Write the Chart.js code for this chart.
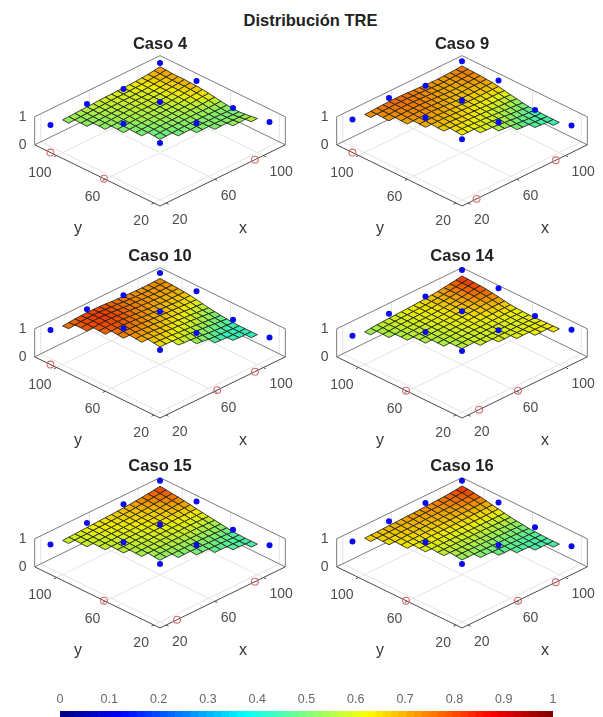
<!DOCTYPE html>
<html>
<head>
<meta charset="utf-8">
<title>Distribución TRE</title>
<script src="https://cdn.jsdelivr.net/npm/chart.js@4"></script>
<style>
  html, body { margin: 0; background: #fff; }
  #page { position: relative; width: 603px; height: 717px; overflow: hidden; }
  #page canvas { position: absolute; filter: blur(0.45px); }
  #mainTitle { position: absolute; left: 210px; width: 201px; top: 10px; text-align: center;
    font: bold 16.5px "Liberation Sans", Arial, sans-serif; line-height: 20px; color: #222; }
</style>
</head>
<body>
<div id="page">
  <div id="mainTitle">Distribución TRE</div>
</div>
<script>
// ejes
const xTickValues = [20, 60, 100];
const yTickValues = [20, 60, 100];
const zTickValues = [0, 1];
const colorbarTicks = [0, 0.1, 0.2, 0.3, 0.4, 0.5, 0.6, 0.7, 0.8, 0.9, 1];

// malla de la superficie: filas en y, cada fila empieza en gridRowStart[i] y llega hasta x = 115
const gridRows = [115, 110, 105, 100, 95, 90, 85, 80, 75, 70, 65, 60, 55, 50, 45, 40, 35, 30];
const gridRowStart = [30, 35, 40, 40, 45, 45, 50, 50, 55, 55, 60, 60, 70, 80, 90, 100, 110, 115];

// puntos azules (x, y comunes a todos los casos)
const blueX = [115, 115, 115, 115, 85, 55, 25, 85, 85, 55, 55];
const blueY = [115, 85, 55, 25, 115, 115, 115, 85, 55, 85, 55];

const caso4Blue = [0.86, 0.86, 0.53, 0.67, 0.57, 0.67, 0.56, 0.74, 0.63, 0.60, 0.55];
const caso9Blue = [0.93, 0.88, 0.46, 0.54, 0.69, 0.89, 0.76, 0.80, 0.66, 0.82, 0.69];
const caso10Blue = [0.94, 0.92, 0.54, 0.54, 0.78, 0.91, 0.81, 0.83, 0.70, 0.86, 0.73];
const caso14Blue = [1.04, 1.03, 0.67, 0.82, 0.73, 0.75, 0.60, 0.84, 0.80, 0.74, 0.70];
const caso15Blue = [1.02, 0.91, 0.54, 0.62, 0.81, 0.78, 0.65, 0.72, 0.63, 0.73, 0.59];
const caso16Blue = [1.02, 0.88, 0.63, 0.59, 0.86, 0.84, 0.76, null, 0.63, 0.73, 0.59];

// puntos rojos sobre los ejes
const caso4RedX = [93], caso4RedY = [105, 61];
const caso9RedX = [92, 27], caso9RedY = [105];
const caso10RedX = [93, 62], caso10RedY = [105];
const caso14RedX = [61, 29], caso14RedY = [61];
const caso15RedX = [93, 29], caso15RedY = [61];
const caso16RedX = [61, 92], caso16RedY = [61];

// TRE x 100 en cada nodo de la malla
const caso4Grid = [
  [52,53,54,55,56,57,58,59,60,60,61,61,62,63,65,67,70,73],
  [52,53,54,55,56,57,58,59,60,60,61,62,63,65,67,69,72],
  [52,53,54,55,56,57,58,59,59,60,61,62,64,66,68,70],
  [51,52,53,54,55,56,57,58,59,59,60,61,63,65,67,70],
  [52,53,54,55,56,57,58,58,59,60,61,63,65,67,70],
  [51,52,53,54,55,56,57,57,58,59,60,62,64,67,69],
  [51,52,53,54,55,56,56,57,58,59,61,63,66,68],
  [50,51,52,53,54,55,55,56,57,58,60,62,64,66],
  [50,51,52,53,54,54,55,56,57,58,60,62,63],
  [49,50,51,52,53,53,54,55,56,56,57,59,60],
  [49,50,51,52,52,53,54,54,54,54,55,56],
  [47,48,49,50,51,51,52,52,52,52,52,53],
  [49,50,50,51,51,51,51,51,50,51],
  [50,50,51,51,51,51,50,50],
  [51,52,52,52,52,52],
  [53,54,55,55],
  [57,58],
  [59]
];
const caso9Grid = [
  [71,72,73,74,75,76,76,76,75,74,73,72,71,71,72,73,74,76],
  [72,73,74,75,76,76,76,75,74,73,72,71,71,72,73,74,75],
  [72,73,74,75,75,75,74,73,72,71,70,70,71,72,73,74],
  [71,72,73,74,74,74,73,72,71,70,69,69,70,71,72,73],
  [71,72,73,73,73,72,71,70,69,68,68,69,70,70,71],
  [70,71,72,72,72,71,70,69,68,67,67,67,68,69,70],
  [70,70,70,70,69,68,67,66,65,65,65,66,66,66],
  [69,69,69,69,68,67,66,65,64,63,63,63,63,62],
  [67,67,67,66,65,64,63,62,61,60,60,59,58],
  [66,66,65,65,64,63,62,61,59,58,57,56,54],
  [64,64,63,62,61,60,58,57,55,54,52,50],
  [62,62,62,61,60,59,57,55,53,51,49,47],
  [60,59,58,56,54,52,50,48,47,46],
  [56,54,52,50,48,47,45,45],
  [50,48,47,46,45,44],
  [47,46,44,44],
  [44,44],
  [45]
];
const caso10Grid = [
  [72,74,76,78,79,80,80,79,78,76,75,74,73,72,72,72,73,74],
  [75,77,79,80,81,81,80,78,77,75,74,73,72,72,72,73,73],
  [78,80,81,82,81,80,78,76,75,74,73,72,71,71,71,72],
  [77,79,80,81,81,79,77,76,74,73,72,71,70,70,70,70],
  [78,79,79,79,78,76,74,73,71,70,69,68,68,68,68],
  [76,77,78,78,76,75,73,71,70,69,68,67,66,66,66],
  [75,75,75,74,73,71,70,69,67,66,65,64,63,62],
  [73,73,73,72,71,70,68,67,65,64,63,61,60,58],
  [71,71,70,69,67,66,64,63,61,60,58,56,54],
  [69,69,68,67,66,64,63,61,60,58,56,54,51],
  [66,65,64,63,61,60,58,56,54,52,50,48],
  [63,63,62,61,60,58,56,54,52,50,48,46],
  [59,57,56,54,52,49,47,46,45,44],
  [53,51,48,46,45,44,43,43],
  [46,44,43,43,43,43],
  [44,43,43,43],
  [43,43],
  [43]
];
const caso14Grid = [
  [51,53,55,57,58,59,60,61,62,63,64,66,68,70,73,76,79,83],
  [53,55,57,58,59,60,61,62,63,64,66,68,70,73,76,79,82],
  [55,56,58,59,60,61,62,63,64,66,68,70,73,76,79,81],
  [54,55,57,58,59,60,61,62,63,65,67,69,72,75,78,80],
  [56,57,58,59,60,61,62,63,65,67,69,71,74,76,78],
  [55,56,57,58,59,60,61,62,64,65,67,69,72,74,75],
  [56,57,58,59,60,61,62,63,65,66,68,70,71,72],
  [55,56,57,58,59,60,61,62,63,65,66,67,68,68],
  [56,57,58,59,60,60,61,62,63,64,65,65,65],
  [55,56,57,58,59,60,60,61,62,62,63,63,63],
  [56,57,58,59,59,60,60,61,61,62,62,62],
  [57,57,58,58,59,59,60,60,60,61,61,61],
  [58,59,59,60,60,60,61,61,61,61],
  [60,60,61,61,61,62,62,62],
  [61,62,62,62,62,63],
  [62,63,63,63],
  [63,64],
  [64]
];
const caso15Grid = [
  [57,58,59,60,61,62,63,64,65,66,67,68,70,72,74,76,79,82],
  [58,59,60,61,62,63,63,64,65,66,67,69,71,73,75,77,80],
  [58,59,60,61,62,62,63,64,65,66,67,69,71,73,75,77],
  [57,58,59,60,61,61,62,63,64,65,66,67,69,71,73,75],
  [58,59,59,60,61,61,62,63,64,65,66,68,69,71,72],
  [57,58,58,59,60,60,61,62,63,64,65,66,67,68,69],
  [57,57,58,59,59,60,61,61,62,63,64,64,65,65],
  [56,56,57,58,58,59,60,60,61,61,62,62,62,62],
  [55,56,57,57,58,58,59,59,60,60,60,60,59],
  [54,55,55,56,56,57,57,58,58,58,57,57,56],
  [53,54,54,55,55,55,55,55,55,54,54,53],
  [51,52,52,53,53,53,53,53,52,52,51,50],
  [50,51,51,51,51,50,50,49,48,47],
  [49,49,49,48,48,47,46,46],
  [47,47,46,46,45,45],
  [46,46,45,45],
  [45,45],
  [46]
];
const caso16Grid = [
  [65,66,67,67,68,69,69,70,71,71,72,73,74,75,76,78,80,83],
  [65,66,67,67,68,69,69,70,71,72,72,73,74,76,78,80,82],
  [65,65,66,67,67,68,68,69,70,70,71,72,74,75,77,79],
  [64,64,65,66,66,67,67,68,68,69,70,71,72,73,75,76],
  [63,64,64,65,65,66,66,67,67,68,69,69,70,71,72],
  [62,63,63,63,64,64,64,65,65,66,66,67,67,68,68],
  [61,61,61,62,62,62,62,63,63,63,63,63,64,64],
  [60,60,60,60,60,60,60,60,60,60,60,60,60,60],
  [58,58,58,58,58,58,58,58,58,57,57,57,56],
  [57,57,56,56,56,56,55,55,55,55,54,54,53],
  [55,55,55,54,54,54,53,53,52,52,51,51],
  [52,52,52,52,51,51,50,50,50,49,49,48],
  [50,50,49,49,48,48,47,47,47,47],
  [48,47,47,47,46,46,46,46],
  [46,46,45,45,45,45],
  [45,45,45,45],
  [45,45],
  [46]
];

const panels = [
  { title: 'Caso 4', left: 15, top: 35, grid: caso4Grid, blue: caso4Blue, redX: caso4RedX, redY: caso4RedY },
  { title: 'Caso 9', left: 317, top: 35, grid: caso9Grid, blue: caso9Blue, redX: caso9RedX, redY: caso9RedY },
  { title: 'Caso 10', left: 15, top: 247, grid: caso10Grid, blue: caso10Blue, redX: caso10RedX, redY: caso10RedY },
  { title: 'Caso 14', left: 317, top: 247, grid: caso14Grid, blue: caso14Blue, redX: caso14RedX, redY: caso14RedY },
  { title: 'Caso 15', left: 15, top: 457, grid: caso15Grid, blue: caso15Blue, redX: caso15RedX, redY: caso15RedY },
  { title: 'Caso 16', left: 317, top: 457, grid: caso16Grid, blue: caso16Blue, redX: caso16RedX, redY: caso16RedY }
];

const FONT = '"Liberation Sans", Arial, sans-serif';
const AX_MIN = 15, AX_MAX = 118;

// vista 3D: de (x, y, z) a las coordenadas de las escalas del chart
function project(x, y, z) {
  return {
    x: 1.217 * (x - y),
    y: 40 + 0.594 * ((x - AX_MIN) + (y - AX_MIN)) + 28 * z
  };
}

function jet(v, shade = 1) {
  const clamp = t => Math.max(0, Math.min(1, t));
  const r = clamp(Math.min(4 * v - 1.5, -4 * v + 4.5));
  const g = clamp(Math.min(4 * v - 0.5, -4 * v + 3.5));
  const b = clamp(Math.min(4 * v + 0.5, -4 * v + 2.5));
  return `rgb(${Math.round(r * 255 * shade)},${Math.round(g * 255 * shade)},${Math.round(b * 255 * shade)})`;
}

function lineSet(points, color, width) {
  return {
    type: 'line', data: points, borderColor: color, borderWidth: width,
    pointRadius: 0, fill: false, tension: 0
  };
}

function buildDatasets(panel) {
  const sets = [];
  const gridColor = '#e4e4e4', rimColor = '#7c7c7c', axisColor = '#4a4a4a';

  // rejilla del suelo y de las paredes
  xTickValues.forEach(t => {
    sets.push(lineSet([project(t, AX_MIN, 0), project(t, AX_MAX, 0)], gridColor, 1));
    sets.push(lineSet([project(t, AX_MAX, 0), project(t, AX_MAX, 1)], gridColor, 1));
  });
  yTickValues.forEach(t => {
    sets.push(lineSet([project(AX_MIN, t, 0), project(AX_MAX, t, 0)], gridColor, 1));
    sets.push(lineSet([project(AX_MAX, t, 0), project(AX_MAX, t, 1)], gridColor, 1));
  });

  // caja
  sets.push(lineSet([project(AX_MIN, AX_MAX, 0), project(AX_MAX, AX_MAX, 0), project(AX_MAX, AX_MIN, 0)], rimColor, 1));
  sets.push(lineSet([project(AX_MIN, AX_MAX, 1), project(AX_MAX, AX_MAX, 1), project(AX_MAX, AX_MIN, 1)], rimColor, 1));
  sets.push(lineSet([project(AX_MIN, AX_MAX, 0), project(AX_MIN, AX_MAX, 1)], rimColor, 1));
  sets.push(lineSet([project(AX_MAX, AX_MIN, 0), project(AX_MAX, AX_MIN, 1)], rimColor, 1));
  sets.push(lineSet([project(AX_MIN, AX_MAX, 0), project(AX_MIN, AX_MIN, 0), project(AX_MAX, AX_MIN, 0)], axisColor, 1));
  xTickValues.forEach(t => sets.push(lineSet([project(t, AX_MIN, 0), project(t, AX_MIN - 2, 0)], axisColor, 1)));
  yTickValues.forEach(t => sets.push(lineSet([project(AX_MIN, t, 0), project(AX_MIN - 2, t, 0)], axisColor, 1)));

  // puntos rojos
  const reds = panel.redX.map(v => project(v, AX_MIN, 0)).concat(panel.redY.map(v => project(AX_MIN, v, 0)));
  sets.push({
    type: 'line', data: reds, showLine: false, pointRadius: 3.4, pointBorderWidth: 1.1,
    pointBackgroundColor: 'rgba(255,255,255,0)', pointBorderColor: '#d96a6a'
  });

  // superficie, de atrás hacia delante
  const nodeAt = (r, x) => {
    if (r < 0 || r >= gridRows.length) return null;
    const k = (x - gridRowStart[r]) / 5;
    const row = panel.grid[r];
    return k >= 0 && k < row.length ? row[k] / 100 : null;
  };
  for (let r = 0; r < gridRows.length - 1; r++) {
    for (let x = 110; x >= 30; x -= 5) {
      const z = [nodeAt(r, x), nodeAt(r, x + 5), nodeAt(r + 1, x + 5), nodeAt(r + 1, x)];
      if (z.includes(null)) continue;
      const yb = gridRows[r], yf = gridRows[r + 1];
      const pts = [project(x, yb, z[0]), project(x + 5, yb, z[1]), project(x + 5, yf, z[2]), project(x, yf, z[3])];
      pts.push(pts[0]);
      const mean = (z[0] + z[1] + z[2] + z[3]) / 4;
      sets.push({
        type: 'line', data: pts, borderColor: 'rgba(25,25,20,0.8)', borderWidth: 1,
        backgroundColor: jet(mean, 0.93), fill: 'shape', pointRadius: 0, tension: 0
      });
    }
  }

  // puntos azules
  const blues = [];
  panel.blue.forEach((z, i) => { if (z !== null) blues.push(project(blueX[i], blueY[i], z)); });
  sets.push({
    type: 'line', data: blues, showLine: false, pointRadius: 3, pointBorderWidth: 0,
    pointBackgroundColor: '#0a0af0'
  });

  // Chart.js pinta primero el order más alto
  sets.forEach((s, i) => { s.order = sets.length - i; });
  return sets;
}

// textos de los ejes en 3D, colocados con las escalas
const axisLabels = {
  id: 'axisLabels',
  afterDraw(chart) {
    const { ctx, scales } = chart;
    const at = p => [scales.x.getPixelForValue(p.x), scales.y.getPixelForValue(p.y)];
    ctx.save();
    ctx.fillStyle = '#4d4d4d';
    ctx.font = '14px ' + FONT;
    ctx.textBaseline = 'middle';
    ctx.textAlign = 'left';
    xTickValues.forEach(t => {
      const [px, py] = at(project(t, AX_MIN, 0));
      ctx.fillText(String(t), px + 6, py + 17);
    });
    ctx.textAlign = 'right';
    yTickValues.forEach(t => {
      const [px, py] = at(project(AX_MIN, t, 0));
      ctx.fillText(String(t), px - 5, py + 18);
    });
    zTickValues.forEach(t => {
      const [px, py] = at(project(AX_MIN, AX_MAX, t));
      ctx.fillText(String(t), px - 8, py);
    });
    ctx.font = '16px ' + FONT;
    ctx.fillStyle = '#333';
    ctx.textAlign = 'center';
    const [cx] = at(project(AX_MIN, AX_MIN, 0));
    const labelY = scales.y.getPixelForValue(17);
    ctx.fillText('y', cx - 82, labelY);
    ctx.fillText('x', cx + 83, labelY);
    ctx.restore();
  }
};

const page = document.getElementById('page');

function addCanvas(left, top, width, height) {
  const canvas = document.createElement('canvas');
  canvas.width = width;
  canvas.height = height;
  canvas.style.left = left + 'px';
  canvas.style.top = top + 'px';
  page.appendChild(canvas);
  return canvas.getContext('2d');
}

panels.forEach(panel => {
  new Chart(addCanvas(panel.left, panel.top, 290, 211), {
    data: { datasets: buildDatasets(panel) },
    plugins: [axisLabels],
    options: {
      responsive: false,
      animation: false,
      events: [],
      layout: { padding: 0, autoPadding: false },
      plugins: {
        legend: { display: false },
        tooltip: { enabled: false },
        title: {
          display: true,
          text: panel.title,
          color: '#222',
          font: { size: 16.5, weight: 'bold', family: FONT, lineHeight: 1.2 },
          padding: { top: 0, bottom: 0.2 }
        }
      },
      scales: {
        x: { type: 'linear', min: -145, max: 145, display: false },
        y: { type: 'linear', min: 0, max: 191, display: false }
      }
    }
  });
});

// barra de color
const colorLevels = Array.from({ length: 64 }, (_, i) => (i + 0.5) / 64);

new Chart(addCanvas(40, 686, 533, 31), {
  type: 'bar',
  data: {
    datasets: [{
      data: colorLevels.map(v => ({ x: v, y: 1 })),
      backgroundColor: colorLevels.map(v => jet(v)),
      barPercentage: 1,
      categoryPercentage: 1,
      borderWidth: 0
    }]
  },
  options: {
    responsive: false,
    animation: false,
    events: [],
    layout: { padding: { left: 20, right: 20 }, autoPadding: false },
    plugins: { legend: { display: false }, tooltip: { enabled: false } },
    scales: {
      x: {
        type: 'linear',
        position: 'top',
        offset: false,
        min: 0,
        max: 1,
        afterBuildTicks: scale => { scale.ticks = colorbarTicks.map(v => ({ value: v })); },
        afterFit: scale => { scale.height = 25; },
        grid: { display: false, drawTicks: false },
        border: { display: false },
        ticks: {
          maxRotation: 0,
          autoSkip: false,
          padding: 4,
          color: '#666',
          font: { size: 12.5, family: FONT },
          callback: v => String(v)
        }
      },
      y: { min: 0, max: 1, display: false }
    }
  }
});
</script>
</body>
</html>
